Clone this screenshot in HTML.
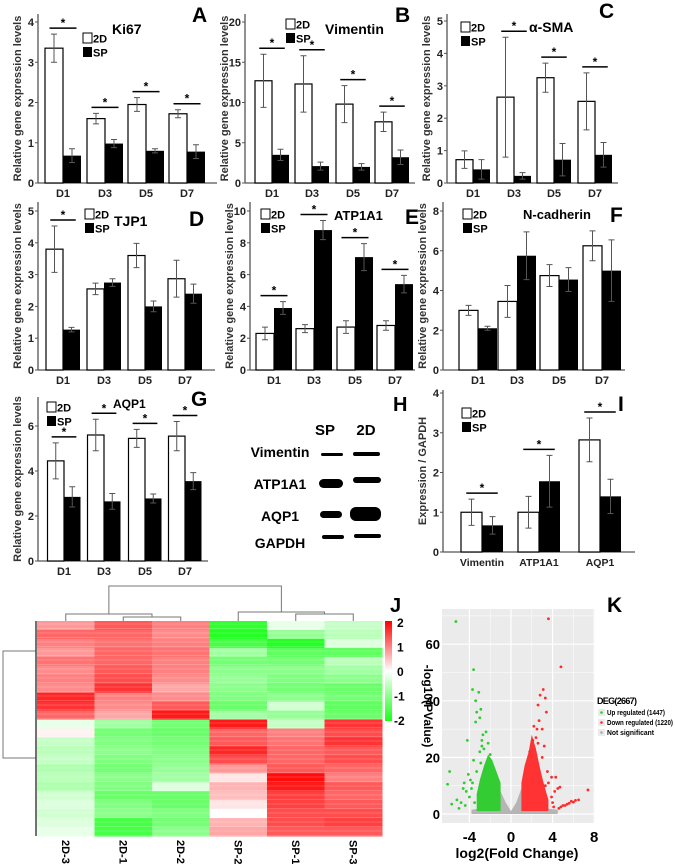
<!DOCTYPE html>
<html><head><meta charset="utf-8"><style>
html,body{margin:0;padding:0;background:#fff;}
svg{display:block;font-family:"Liberation Sans",sans-serif;}
</style></head><body>
<svg id="fig" width="675" height="864" viewBox="0 0 675 864" xmlns="http://www.w3.org/2000/svg">
<g id="bars"></g>
<g id="blot">
  <text x="393" y="411" font-size="20" font-weight="bold">H</text>
  <text x="325" y="435" font-size="15" font-weight="bold" text-anchor="middle">SP</text>
  <text x="366" y="435" font-size="15" font-weight="bold" text-anchor="middle">2D</text>
  <text x="280" y="457" font-size="14" font-weight="bold" text-anchor="middle">Vimentin</text>
  <text x="280" y="489" font-size="14" font-weight="bold" text-anchor="middle">ATP1A1</text>
  <text x="280" y="521" font-size="14" font-weight="bold" text-anchor="middle">AQP1</text>
  <text x="280" y="548" font-size="14" font-weight="bold" text-anchor="middle">GAPDH</text>
  <rect x="321" y="453" width="22" height="3" rx="1.5" fill="#000"/>
  <rect x="353" y="452" width="27" height="4" rx="2" fill="#000"/>
  <rect x="319" y="479" width="24" height="9" rx="4.5" fill="#000"/>
  <rect x="353" y="477" width="28" height="6" rx="3" fill="#000"/>
  <rect x="320" y="511" width="22" height="7" rx="3.5" fill="#000"/>
  <rect x="350" y="507" width="31" height="14" rx="6" fill="#000"/>
  <rect x="322" y="535" width="22" height="4" rx="2" fill="#000"/>
  <rect x="354" y="534" width="27" height="4" rx="2" fill="#000"/>
</g>
<g id="heat"></g>
<g id="volc"></g>
</svg>
<script>
const NS="http://www.w3.org/2000/svg";
// ---------- bar chart data ----------
const dayCats=["D1","D3","D5","D7"];
const ki67TwoD=[3.35,1.6,1.95,1.72], ki67TwoDErr=[0.35,0.13,0.17,0.1];
const ki67SP=[0.68,0.98,0.8,0.78], ki67SPErr=[0.17,0.1,0.05,0.17];
const ki67Sig=[1,1,1,1];
const vimTwoD=[12.7,12.3,9.8,7.6], vimTwoDErr=[3.3,3.5,2.3,1.2];
const vimSP=[3.5,2.1,2.0,3.2], vimSPErr=[0.7,0.5,0.4,0.9];
const vimSig=[1,1,1,1];
const smaTwoD=[0.72,2.65,3.25,2.52], smaTwoDErr=[0.27,1.85,0.45,0.88];
const smaSP=[0.42,0.22,0.72,0.87], smaSPErr=[0.3,0.1,0.5,0.38];
const smaSig=[0,1,1,1];
const tjpTwoD=[3.8,2.55,3.6,2.87], tjpTwoDErr=[0.73,0.18,0.38,0.58];
const tjpSP=[1.27,2.75,2.0,2.4], tjpSPErr=[0.07,0.12,0.17,0.3];
const tjpSig=[1,0,0,0];
const atpTwoD=[2.3,2.6,2.7,2.8], atpTwoDErr=[0.4,0.25,0.4,0.3];
const atpSP=[3.9,8.8,7.1,5.4], atpSPErr=[0.4,0.6,0.85,0.55];
const atpSig=[1,1,1,1];
const ncadTwoD=[3.0,3.45,4.75,6.25], ncadTwoDErr=[0.25,0.8,0.55,0.75];
const ncadSP=[2.1,5.75,4.55,5.0], ncadSPErr=[0.1,1.2,0.6,1.55];
const ncadSig=[0,0,0,0];
const aqpTwoD=[4.45,5.6,5.45,5.55], aqpTwoDErr=[0.8,0.7,0.4,0.65];
const aqpSP=[2.85,2.65,2.78,3.55], aqpSPErr=[0.45,0.35,0.2,0.38];
const aqpSig=[1,1,1,1];
const protCats=["Vimentin","ATP1A1","AQP1"];
const protTwoD=[1.0,1.0,2.82], protTwoDErr=[0.33,0.4,0.55];
const protSP=[0.67,1.78,1.4], protSPErr=[0.22,0.65,0.43];
const protSig=[1,1,1];
const ticks4=[0,1,2,3,4], ticks5=[0,1,2,3,4,5], ticks20=[0,5,10,15,20], ticks10=[0,2,4,6,8,10], ticks8=[0,2,4,6,8], ticks6=[0,2,4,6];

function el(tag,attrs,parent,text){const e=document.createElementNS(NS,tag);for(const k in attrs)e.setAttribute(k,attrs[k]);if(text!==undefined)e.textContent=text;parent.appendChild(e);return e;}

function barPanel(c){
  const g=el("g",{},document.getElementById("bars"));
  
  
  const tmax=c.ticks[c.ticks.length-1];
  const sy=v=>c.y0-v*(c.y0-c.yTop)/tmax;
  let a=el("line",{x1:c.ax,y1:c.axTop,x2:c.ax,y2:c.y0,stroke:"#555","stroke-width":1.3},g);
  
  
  a=el("line",{x1:c.ax,y1:c.y0,x2:c.xEnd,y2:c.y0,stroke:"#555","stroke-width":1.3},g);
  
  
  c.ticks.forEach(v=>{
    el("line",{x1:c.ax-3,y1:sy(v),x2:c.ax,y2:sy(v),stroke:"#555"},g);
    const t=el("text",{x:c.ax-4,y:sy(v)+4,"font-size":11,"font-weight":"bold","text-anchor":"end",fill:"#222"},g,String(v));
    
    
  });
  const yl=el("text",{x:0,y:0,"font-size":c.ylFont||11,"font-weight":"bold","text-anchor":"middle",fill:"#333",transform:`translate(${c.ax-17},${(c.y0+c.axTop)/2+c.ylShift}) rotate(-90)`},g,c.ylabel);
  
  
  c.cats.forEach((cat,i)=>{
    const cx=c.centers[i], bw=c.bw;
    const r1=el("rect",{x:cx-bw,y:sy(c.a[i]),width:bw,height:c.y0-sy(c.a[i]),fill:"#fff",stroke:"#000","stroke-width":1.2},g);
    
    
    const r2=el("rect",{x:cx,y:sy(c.b[i]),width:bw,height:c.y0-sy(c.b[i]),fill:"#000"},g);
    
    
    [[cx-bw/2,c.a[i],c.ae[i]],[cx+bw/2,c.b[i],c.be[i]]].forEach(([x,v,e])=>{
      const eb=el("path",{d:`M${x},${sy(v-e)}V${sy(v+e)}M${x-3},${sy(v+e)}H${x+3}M${x-3},${sy(v-e)}H${x+3}`,stroke:"#555","stroke-width":1,fill:"none"},g);
      
      
    });
    const lb=el("text",{x:cx,y:c.y0+14,"font-size":c.catFont||11,"font-weight":"bold","text-anchor":"middle",fill:"#222"},g,cat);
    
    
    if(c.sig[i]){
      const top=Math.max(c.a[i]+c.ae[i],c.b[i]+c.be[i]);
      const ly=sy(top)-6;
      const sl=el("line",{x1:cx-bw*0.75,y1:ly,x2:cx+bw*0.75,y2:ly,stroke:"#000","stroke-width":1.5},g);
      
      
      const st=el("text",{x:cx,y:ly-1,"font-size":12,"font-weight":"bold","text-anchor":"middle"},g,"*");
      
      
    }
  });
  const lg=el("g",{},g);
  
  
  el("rect",{x:c.lx,y:c.ly,width:9,height:10,fill:"#fff",stroke:"#000","stroke-width":1},lg);
  el("text",{x:c.lx+10,y:c.ly+9.5,"font-size":11,"font-weight":"bold"},lg,"2D");
  el("rect",{x:c.lx,y:c.ly+14,width:9,height:10,fill:"#000"},lg);
  el("text",{x:c.lx+10,y:c.ly+23.5,"font-size":11,"font-weight":"bold"},lg,"SP");
  if(c.title){const tt=el("text",{x:c.tx,y:c.ty,"font-size":c.tFont||14,"font-weight":"bold"},g,c.title);
    
    }
  const pl=el("text",{x:c.px,y:c.py,"font-size":21,"font-weight":"bold"},g,c.letter);
  
  
}
const YL="Relative gene expression levels";
barPanel({name:"ki67-chart",ax:38,y0:183,yTop:22,axTop:14,xEnd:217,ticks:ticks4,centers:[63,105,146,187],bw:18,cats:dayCats,a:ki67TwoD,ae:ki67TwoDErr,b:ki67SP,be:ki67SPErr,sig:ki67Sig,ylabel:YL,ylShift:0,lx:83,ly:33,title:"Ki67",tx:112,ty:34,letter:"A",px:192,py:22});
barPanel({name:"vimentin-chart",ax:245,y0:183,yTop:22,axTop:14,xEnd:415,ticks:ticks20,centers:[272,312,353,392],bw:17,cats:dayCats,a:vimTwoD,ae:vimTwoDErr,b:vimSP,be:vimSPErr,sig:vimSig,ylabel:YL,ylShift:0,lx:286,ly:19,title:"Vimentin",tx:325,ty:34,letter:"B",px:395,py:22});
barPanel({name:"alpha-sma-chart",ax:447,y0:183,yTop:21,axTop:14,xEnd:618,ticks:ticks5,centers:[473,514,554,595],bw:17,cats:dayCats,a:smaTwoD,ae:smaTwoDErr,b:smaSP,be:smaSPErr,sig:smaSig,ylabel:YL,ylShift:0,lx:461,ly:22,title:"α-SMA",tx:529,ty:32,letter:"C",px:599,py:18});
barPanel({name:"tjp1-chart",ax:38,y0:370,yTop:211,axTop:202,xEnd:215,ticks:ticks5,centers:[63,104,145,185],bw:17,cats:dayCats,a:tjpTwoD,ae:tjpTwoDErr,b:tjpSP,be:tjpSPErr,sig:tjpSig,ylabel:YL,ylShift:0,lx:85,ly:209,title:"TJP1",tx:114,ty:226,letter:"D",px:189,py:226});
barPanel({name:"atp1a1-chart",ax:250,y0:370,yTop:211,axTop:202,xEnd:415,ticks:ticks10,centers:[274,314,355,395],bw:18,cats:dayCats,a:atpTwoD,ae:atpTwoDErr,b:atpSP,be:atpSPErr,sig:atpSig,ylabel:YL,ylShift:0,lx:261,ly:209,title:"ATP1A1",tx:334,ty:220,tFont:13,letter:"E",px:405,py:224});
barPanel({name:"n-cadherin-chart",ax:443,y0:370,yTop:211,axTop:202,xEnd:625,ticks:ticks8,centers:[478,517,559,602],bw:19,cats:dayCats,a:ncadTwoD,ae:ncadTwoDErr,b:ncadSP,be:ncadSPErr,sig:ncadSig,ylabel:YL,ylShift:0,lx:463,ly:209,title:"N-cadherin",tx:523,ty:219,tFont:13,letter:"F",px:610,py:222});
barPanel({name:"aqp1-chart",ax:38,y0:561,yTop:426,axTop:397,xEnd:208,ticks:ticks6,centers:[64,104,145,185],bw:16.5,cats:dayCats,a:aqpTwoD,ae:aqpTwoDErr,b:aqpSP,be:aqpSPErr,sig:aqpSig,ylabel:YL,ylShift:0,lx:47,ly:402,title:"AQP1",tx:113,ty:408,tFont:12,letter:"G",px:191,py:406});
barPanel({name:"protein-expression-chart",ax:443,y0:552,yTop:393,axTop:390,xEnd:635,ticks:ticks4,centers:[482,539,600],bw:21,cats:protCats,a:protTwoD,ae:protTwoDErr,b:protSP,be:protSPErr,sig:protSig,ylabel:"Expression / GAPDH",ylShift:0,lx:462,ly:408,catFont:10.5,letter:"I",px:618,py:411});

// ---------- heatmap data ----------
const hmColumns=["2D-3","2D-1","2D-2","SP-2","SP-1","SP-3"];
const hm2D3=[0.8,1.2,1.0,0.8,1.1,0.9,1.0,0.9,1.7,1.6,1.2,-0.2,0.1,-0.5,-0.6,-0.5,-0.7,-0.6,-0.7,-0.4,-0.3,-0.4,-0.3,-0.2];
const hm2D1=[1.3,1.2,1.1,1.2,1.2,1.3,1.4,1.6,1.0,0.9,0.7,-0.8,-1.2,-1.1,-1.0,-1.1,-1.2,-1.0,-1.1,-1.3,-1.1,-1.0,-1.6,-1.6];
const hm2D2=[1.0,0.9,1.0,1.1,1.0,1.0,0.9,0.7,0.9,1.3,1.8,-1.2,-1.3,-1.2,-1.1,-1.0,-0.9,-0.8,-0.3,-1.3,-1.3,-1.1,-1.2,-1.0];
const hmSP2=[-1.8,-1.9,-1.6,-0.8,-1.2,-1.0,-0.9,-1.0,-1.1,-1.3,-0.8,1.8,1.2,1.3,1.7,1.4,0.8,0.2,0.6,0.5,0.2,0.0,0.6,0.7];
const hmSP1=[-0.2,-0.9,-1.9,-1.4,-1.2,-1.0,-1.1,-1.2,-1.0,-0.4,-0.9,-0.5,1.0,1.1,1.2,1.2,1.3,1.9,1.8,1.5,1.5,1.4,1.4,1.3];
const hmSP3=[-0.5,-0.6,-0.3,-1.4,-0.6,-0.8,-1.0,-1.3,-1.2,-1.4,-1.3,1.6,1.4,1.6,1.3,1.4,1.2,1.0,1.3,1.2,1.3,1.4,1.5,1.3];
const hmValues=[hm2D3,hm2D1,hm2D2,hmSP2,hmSP1,hmSP3];
const cbTicks=[2,1,0,-1,-2];
(function(){
  const g=document.getElementById("heat");
  
  
  const X0=37,X1=382,Y0=621,Y1=836;
  const cw=(X1-X0)/hmColumns.length, rh=(Y1-Y0)/hm2D3.length;
  function col(v){v=Math.max(-2,Math.min(2,v));
    if(v>=0){const t=v/2;return `rgb(255,${Math.round(255-255*t)},${Math.round(255-255*t)})`;}
    const t=-v/2;return `rgb(${Math.round(255-230*t)},255,${Math.round(255-230*t)})`;}
  hmValues.forEach((arr,ci)=>{
    arr.forEach((v,ri)=>{
      const r=el("rect",{x:X0+ci*cw,y:Y0+ri*rh,width:cw+0.5,height:rh+0.5,fill:col(v)},g);
      
      
    });
    const cx=X0+ci*cw+cw/2;
    const t=el("text",{x:0,y:0,"font-size":11,"font-weight":"bold",transform:`translate(${cx-4},840) rotate(90)`},g,hmColumns[ci]);
    
    
  });
  for(let y=Y0+3;y<Y1;y+=4.5){el("line",{x1:X0,y1:y,x2:X1,y2:y,stroke:"#fff","stroke-opacity":0.18,"stroke-width":1},g);}
  const cx=i=>X0+i*cw+cw/2;
  const d=`M${cx(1)},621V617H${cx(2)}V621 M${cx(0)},621V614H${(cx(1)+cx(2))/2}V617 M${cx(4)},621V614H${cx(5)}V621 M${cx(3)},621V612H${(cx(4)+cx(5))/2}V614 M${(cx(0)+(cx(1)+cx(2))/2)/2},614V586H${(cx(3)+(cx(4)+cx(5))/2)/2}V612`;
  const dd=el("path",{d:d,stroke:"#777",fill:"none","stroke-width":1},g);
  
  
  const ld=el("path",{d:"M36,651H3V758H36 M36,640V662 M36,730V800",stroke:"#777",fill:"none","stroke-width":1},g);
  
  
  el("line",{x1:36,y1:621,x2:36,y2:836,stroke:"#444","stroke-width":1.5},g);
  const defs=el("defs",{},g);
  const lgd=el("linearGradient",{id:"cb",x1:0,y1:0,x2:0,y2:1},defs);
  el("stop",{offset:"0",["stop-color"]:"#ff0000"},lgd);
  el("stop",{offset:"0.5",["stop-color"]:"#ffffff"},lgd);
  el("stop",{offset:"1",["stop-color"]:"#19ff19"},lgd);
  const cb=el("rect",{x:385,y:621,width:7,height:100,fill:"url(#cb)"},g);
  
  
  cbTicks.forEach(v=>{
    const t=el("text",{x:v<0?394:397,y:671-v*24.5+5,"font-size":12,"font-weight":"bold"},g,String(v));
    
    
  });
  const J=el("text",{x:390,y:612,"font-size":20,"font-weight":"bold"},g,"J");
  
  
})();

// ---------- volcano data ----------
const volXTicks=[-4,0,4,8];
const volYTicks=[0,20,40,60];
const greenPtsX=[-5.3,-3.6,-3.7,-3.1,-3.4,-2.9,-3.3,-3.0,-3.4,-2.4,-2.7,-4.2,-2.2,-2.8,-2.6,-3.0,-2.0,-5.9,-6.1,-4.1,-4.5,-5.2,-5.7,-4.8,-5.0,-4.3,-3.8,-4.0,-3.5,-4.6,-3.3,-3.6,-2.8,-2.9,-3.9,-3.1,-2.5,-3.7,-4.4];
const greenPtsY=[68,51,44,43,40,37,36,34,32.5,29,28,26,25,24,23,22,21,15,10.5,14,11,5,3.5,4,2,8,9,6,4,9,15,19,26,18,12,7,16,11,3];
const redPtsX=[3.6,4.8,3.1,3.3,2.8,2.6,3.4,2.7,2.5,2.2,3.0,2.4,2.6,2.1,3.2,1.8,3.9,4.3,4.5,4.7,7.4,3.5,4.2,3.9,4.0,4.6,5.0,5.4,5.8,6.2,6.5,4.8,5.2,5.6,6.0,3.6,3.0,3.3,4.1];
const redPtsY=[69,52,44,41,42,38.5,36,33,30,31,30,27,25,26,24,22,13,13,9,9.5,8.5,15,8,6,4,2,3,3.5,4.5,4.8,5,2.5,3,3.8,4.2,11,20,10,2.5];
const greenCloudX=[-3.3,-3.0,-2.6,-2.2,-1.8,-1.4,-1.0];
const greenCloudY=[7,12,17,21,19,15,11];
const redCloudX=[1.0,1.3,1.7,2.0,2.4,2.8,3.2,3.6];
const redCloudY=[11,17,22,28,23,16,10,5];
const grayEnvX=[-3.8,-2,-1,-0.5,0,0.5,1,2,4.5];
const grayEnvY=[1.5,2.5,8,4,1,4,9,2.5,1.5];
(function(){
  const g=document.getElementById("volc");
  
  
  const L=442,R=595,T=609,B=823;
  const sx=v=>511+v*10.4, sy=v=>814-v*2.83;
  const bg=el("rect",{x:L,y:T,width:R-L,height:B-T,fill:"#ebebeb"},g);
  
  
  volXTicks.forEach(v=>{el("line",{x1:sx(v),y1:T,x2:sx(v),y2:B,stroke:"#fff","stroke-width":1.2},g);
    el("line",{x1:sx(v+2),y1:T,x2:sx(v+2),y2:B,stroke:"#fff","stroke-width":0.5},g);
    const t=el("text",{x:sx(v),y:842,"font-size":15,"font-weight":"bold","text-anchor":"middle"},g,String(v));
    
    });
  volYTicks.forEach(v=>{el("line",{x1:L,y1:sy(v),x2:R,y2:sy(v),stroke:"#fff","stroke-width":1.2},g);
    el("line",{x1:L,y1:sy(v+10),x2:R,y2:sy(v+10),stroke:"#fff","stroke-width":0.5},g);
    const t=el("text",{x:440,y:sy(v)+5,"font-size":13,"font-weight":"bold","text-anchor":"end"},g,String(v));
    
    });
  function env(xs,ys,base,fill,name){
    let d=`M${sx(xs[0])},${sy(base)}`;xs.forEach((x,i)=>d+=`L${sx(x)},${sy(ys[i])}`);d+=`L${sx(xs[xs.length-1])},${sy(base)}Z`;
    const p=el("path",{d:d,fill:fill},g);
    
    
  }
  env(grayEnvX,grayEnvY,0,"#b5b5b5","not-significant-cloud");
  env(greenCloudX,greenCloudY,1,"#33cc33","up-regulated-cloud");
  env(redCloudX,redCloudY,1,"#ff3333","down-regulated-cloud");
  greenPtsX.forEach((x,i)=>{const c=el("circle",{cx:sx(x),cy:sy(greenPtsY[i]),r:1.4,fill:"#2ecc2e"},g);
    
    });
  redPtsX.forEach((x,i)=>{const c=el("circle",{cx:sx(x),cy:sy(redPtsY[i]),r:1.4,fill:"#ff2a2a"},g);
    
    });
  const xt=el("text",{x:517,y:858,"font-size":14,"font-weight":"bold","text-anchor":"middle"},g,"log2(Fold Change)");
  
  
  const yt=el("text",{x:0,y:0,"font-size":12,"font-weight":"bold","text-anchor":"middle",transform:"translate(424,706) rotate(90)"},g,"-log10(PValue)");
  
  
  const K=el("text",{x:607,y:612,"font-size":21,"font-weight":"bold"},g,"K");
  
  
  const lg=el("g",{},g);
  
  
  el("text",{x:597,y:704,"font-size":9,"font-weight":"bold",textLength:40},lg,"DEG(2667)");
  [["#2ecc2e","Up regulated (1447)",709,58],["#ff2a2a","Down regulated (1220)",719,66],["#aaa","Not significant",729,47]].forEach(([c,t,y,w])=>{
    el("rect",{x:598,y:y,width:7,height:7,fill:"#ebebeb"},lg);
    el("circle",{cx:601.5,cy:y+3.5,r:1.3,fill:c},lg);
    el("text",{x:607,y:y+6,"font-size":7,"font-weight":"bold",textLength:w,lengthAdjust:"spacingAndGlyphs"},lg,t);
  });
})();
</script>
</body></html>
